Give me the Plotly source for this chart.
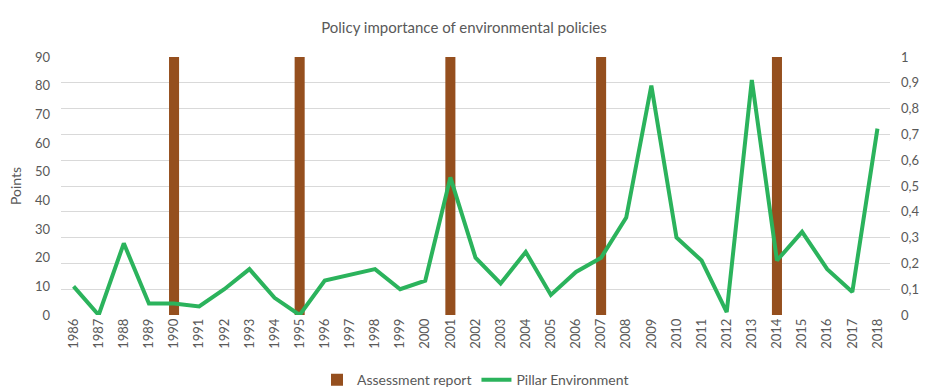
import plotly.graph_objects as go

years = [str(y) for y in range(1986, 2019)]

# Policy importance score of the environment pillar (points)
pillar_environment = [10, 0, 25, 4, 4, 3, 9, 16, 6, 0, 12, 14, 16, 9, 12, 48,
                      20, 11, 22, 7, 15, 20, 34, 80, 27, 19, 1, 82, 19, 29, 16, 8, 65]

# Years in which an assessment report was published
report_years = ["1990", "1995", "2001", "2007", "2014"]
report_flag = [1 if y in report_years else None for y in years]

BROWN = "#954F1E"
GREEN = "#2BB35C"
GREY = "#595959"
FONT = "Lato"

fig = go.Figure()

fig.add_trace(go.Bar(
    x=years, y=report_flag, name="Assessment report",
    marker=dict(color=BROWN, line=dict(width=0)),
    width=0.4, yaxis="y",
))

fig.add_trace(go.Scatter(
    x=years, y=pillar_environment, name="Pillar Environment",
    mode="lines", line=dict(color=GREEN, width=4),
    yaxis="y2",
))

fig.update_layout(
    width=928, height=390,
    margin=dict(l=61, r=38, t=57, b=75, autoexpand=False),
    paper_bgcolor="white", plot_bgcolor="white",
    separators=", ",
    font=dict(family=FONT, color=GREY, size=13),
    title=dict(text="Policy importance of environmental policies",
               x=0.5, xanchor="center", y=0.93, yanchor="middle",
               font=dict(family=FONT, size=15, color=GREY)),
    xaxis=dict(type="category", tickangle=-90, showgrid=False, automargin=False,
               showline=False, ticks="", tickfont=dict(size=13, color=GREY)),
    yaxis=dict(side="right", range=[0, 1], dtick=0.1, showgrid=True,
               gridcolor="#D9D9D9", gridwidth=1, zeroline=False, automargin=False,
               showline=False, ticks="", ticklabelstandoff=10,
               tickfont=dict(size=13, color=GREY)),
    yaxis2=dict(side="left", overlaying="y", range=[0, 90], dtick=10,
                showgrid=False, zeroline=False, showline=False, ticks="",
                automargin=False, ticklabelstandoff=10,
                title=dict(text="Points", font=dict(size=14, color=GREY), standoff=10),
                tickfont=dict(size=13, color=GREY)),
    legend=dict(orientation="h", x=0.5, xanchor="center", y=0.025, yanchor="middle",
                yref="container", font=dict(size=14, color=GREY),
                traceorder="normal"),
    showlegend=True,
    bargap=0.6,
)

fig.write_html("out.html")
